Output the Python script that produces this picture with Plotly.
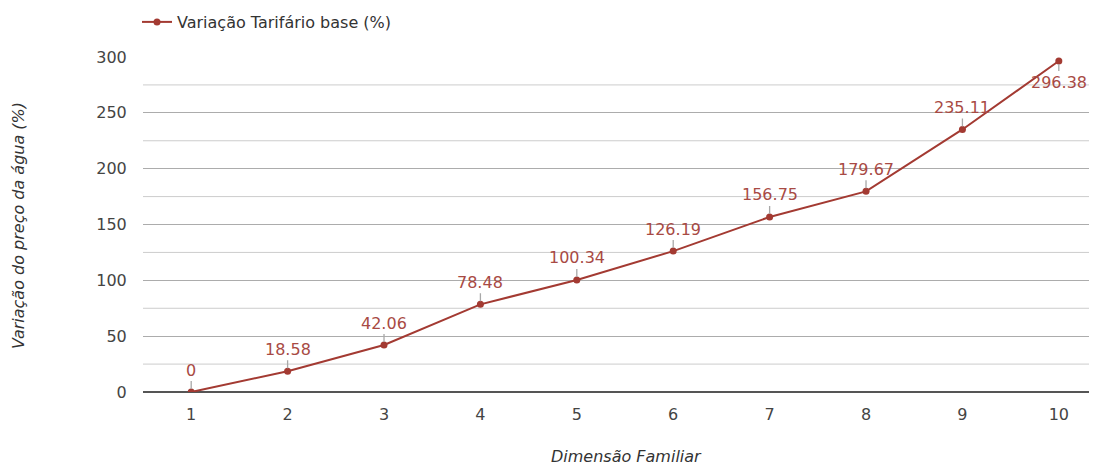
import plotly.graph_objects as go

familia = [1, 2, 3, 4, 5, 6, 7, 8, 9, 10]
variacao = [0, 18.58, 42.06, 78.48, 100.34, 126.19, 156.75, 179.67, 235.11, 296.38]
serie_nome = "Variação Tarifário base (%)"
x_titulo = "Dimensão Familiar"
y_titulo = "Variação do preço da água (%)"

line_color = "#a33a32"
label_color = "#a84a44"
FONT = "DejaVu Sans"

# page offset (body margin of 8px)
W, H = 1089, 457
PL, PT, PB = 135, 49, 384  # plot area in figure pixels
PW, PH = W - PL, PB - PT

fig = go.Figure()
fig.add_trace(go.Scatter(
    x=familia, y=variacao, mode="lines+markers", name=serie_nome,
    line=dict(color=line_color, width=2),
    marker=dict(color=line_color, size=7),
))

annotations = []
for i, (xv, yv) in enumerate(zip(familia, variacao)):
    below = i == len(familia) - 1
    annotations.append(dict(
        x=xv, y=yv, xref="x", yref="y", text=str(yv),
        showarrow=True, arrowhead=0, arrowwidth=1.3, arrowcolor="#a8a8a8",
        ax=0, ay=21 if below else -22, standoff=3,
        font=dict(family=FONT, size=16, color=label_color),
    ))

# axis titles (target screen positions minus 8px page offset)
annotations.append(dict(
    text="<i>" + x_titulo + "</i>", xref="paper", yref="paper", x=(626 - 8 - PL) / PW,
    y=-(457 - 8 - PB) / PH, xanchor="center", yanchor="middle", showarrow=False,
    font=dict(family=FONT, size=16, color="#333"),
))
annotations.append(dict(
    text="<i>" + y_titulo + "</i>", xref="paper", yref="paper", x=-(PL - (18 - 8)) / PW,
    y=(PB - (225 - 8)) / PH, xanchor="center", yanchor="middle", showarrow=False, textangle=-90,
    font=dict(family=FONT, size=16, color="#333"),
))

# minor gridlines
shapes = []
for g in [25, 75, 125, 175, 225, 275]:
    shapes.append(dict(type="line", xref="paper", x0=0, x1=1, yref="y", y0=g, y1=g,
                       line=dict(color="#cccccc", width=1), layer="below"))

fig.update_layout(
    width=W, height=H,
    margin=dict(l=PL, r=0, t=PT, b=H - PB, autoexpand=False),
    paper_bgcolor="white", plot_bgcolor="white",
    font=dict(family=FONT, size=16, color="#444"),
    showlegend=True,
    legend=dict(x=-6 / PW, xref="paper", y=1 - 14 / H, yref="container", xanchor="left",
                yanchor="middle", orientation="h", borderwidth=0,
                font=dict(family=FONT, size=16, color="#333"), itemwidth=30),
    annotations=annotations,
    shapes=shapes,
)
fig.update_xaxes(
    range=[0.5, 10.396], tickvals=familia, ticktext=[str(v) for v in familia],
    showgrid=False, zeroline=False, showline=False, ticks="outside", ticklen=8,
    tickcolor="rgba(0,0,0,0)", automargin=False,
    tickfont=dict(size=16, color="#444"),
)
fig.update_yaxes(
    range=[0, 300], dtick=50, showgrid=True, gridcolor="#acacac", gridwidth=1,
    zeroline=True, zerolinecolor="#555", zerolinewidth=1.5,
    ticks="outside", ticklen=12, tickcolor="rgba(0,0,0,0)", automargin=False,
    tickfont=dict(size=16, color="#444"),
)
fig.write_html("out.html")
